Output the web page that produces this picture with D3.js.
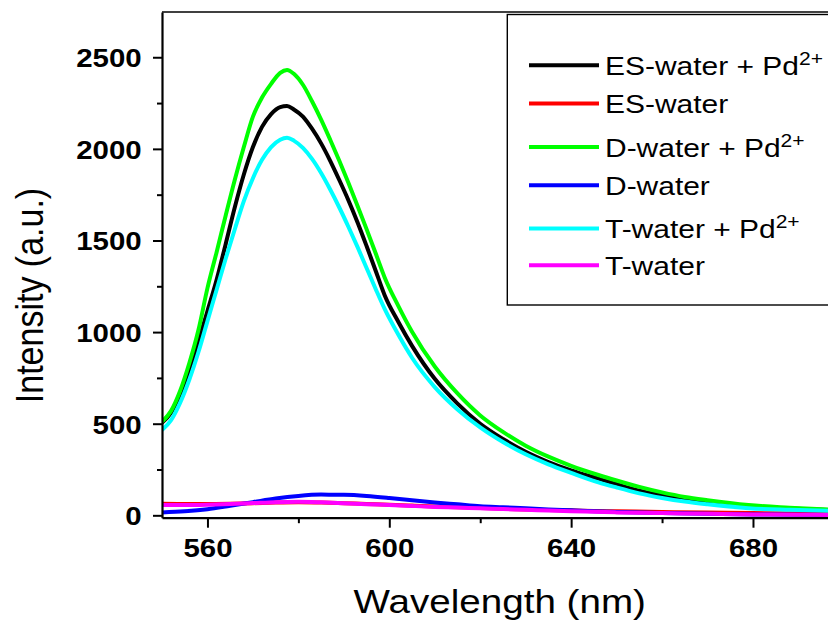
<!DOCTYPE html>
<html>
<head>
<meta charset="utf-8">
<script src="https://cdn.jsdelivr.net/npm/d3@7"></script>
<style>
  html, body { margin: 0; padding: 0; background: #fff; }
  svg { display: block; }
</style>
</head>
<body>
<svg id="chart" width="828" height="626"></svg>
<script>
// ---- data ----
const bigWavelengths = [550,552,554,556,558,560,562,564,566,568,570,572,574,576,577.5,579,581,583,585,587,589,591,593,595,597,599,602,605,610,615,620,625,630,635,640,646,650,655,660,665,670,679,688,697];
const esWaterPd = [505,560,660,795,950,1115,1284,1480,1680,1860,2010,2120,2190,2228,2234,2215,2176,2110,2030,1935,1830,1720,1600,1470,1335,1200,1055,925,745,610,500,417,347,291,245,200,170,135,110,88,72,50,37,28];
const dWaterPd = [511,570,680,830,1010,1240,1435,1635,1830,2010,2176,2280,2355,2415,2431,2410,2350,2260,2160,2050,1935,1815,1690,1562,1430,1297,1142,1002,812,665,545,455,380,320,270,220,190,155,125,100,82,56,42,31];
const tWaterPd = [466,520,615,740,890,1060,1230,1400,1560,1715,1840,1940,2010,2050,2061,2045,2005,1945,1868,1778,1680,1575,1465,1350,1235,1125,985,860,700,578,480,400,333,278,232,180,152,120,95,75,60,39,30,24];

const smallWavelengths = [550,555,560,565,570,575,580,585,590,595,600,605,610,615,620,625,630,635,640,645,650,660,670,680,690,697];
const esWater = [63,62,62,63,66,70,72,70,66,62,58,53,48,44,40,36,32,29,27,24,22,18,15,12,10,9];
const dWater  = [16,22,33,52,72,92,106,113,112,106,95,82,70,60,50,44,38,32,27,22,18,12,8,5,3,2];
const tWater  = [56,56,58,62,67,72,74,71,66,61,56,51,46,42,38,34,30,26,22,19,16,12,8,5,3,2];

const seriesNames = ["ES-water + Pd", "ES-water", "D-water + Pd", "D-water", "T-water + Pd", "T-water"];
const seriesSup   = ["2+", "", "2+", "", "2+", ""];
const seriesColors = ["#000000", "#ff0000", "#00ff00", "#0000ff", "#00ffff", "#ff00ff"];

const xTicks = [560, 600, 640, 680];
const xMinorTicks = [580, 620, 660, 700];
const yTicks = [0, 500, 1000, 1500, 2000, 2500];
const yMinorTicks = [250, 750, 1250, 1750, 2250];

const xTitle = "Wavelength (nm)";
const yTitle = "Intensity (a.u.)";

// ---- layout ----
const svg = d3.select("#chart");
const plotLeft = 162, plotTop = 12, plotBottom = 517.7;
const x = d3.scaleLinear().domain([550, 700]).range([plotLeft, plotLeft + 150 * 4.546]);
const y = d3.scaleLinear().domain([-13, 2747]).range([plotBottom, plotTop]);
const SX = 1.15; // horizontal stretch of the original picture's lettering

const series = [
  {xs: bigWavelengths, ys: esWaterPd},
  {xs: smallWavelengths, ys: esWater},
  {xs: bigWavelengths, ys: dWaterPd},
  {xs: smallWavelengths, ys: dWater},
  {xs: bigWavelengths, ys: tWaterPd},
  {xs: smallWavelengths, ys: tWater}
];

svg.append("defs").append("clipPath").attr("id", "plotclip")
  .append("rect").attr("x", plotLeft).attr("y", plotTop).attr("width", 828 - plotLeft).attr("height", plotBottom - plotTop);

// curves
const line = d3.line().x(d => x(d[0])).y(d => y(d[1])).curve(d3.curveMonotoneX);
const plot = svg.append("g").attr("clip-path", "url(#plotclip)");
series.forEach((s, i) => {
  const pts = s.xs.map((w, k) => [w, s.ys[k]]);
  plot.append("path").datum(pts)
    .attr("d", line)
    .attr("fill", "none")
    .attr("stroke", seriesColors[i])
    .attr("stroke-width", 4)
    .attr("stroke-linejoin", "round");
});

// top frame line
svg.append("line").attr("x1", plotLeft).attr("x2", 828).attr("y1", plotTop).attr("y2", plotTop)
  .attr("stroke", "#000").attr("stroke-width", 1.5);

// x axis
const xAxisG = svg.append("g").attr("transform", `translate(0,${plotBottom})`)
  .call(d3.axisBottom(x).tickValues(xTicks).tickSize(10).tickSizeOuter(0).tickPadding(8).tickFormat(d3.format("d")));
xAxisG.select(".domain").attr("stroke-width", 2.2);
xAxisG.selectAll(".tick line").attr("stroke-width", 2);
xAxisG.selectAll(".tick text")
  .attr("font-family", "'Liberation Sans', Arial, sans-serif")
  .attr("font-weight", "bold").attr("font-size", 25.6)
  .attr("fill", "#000")
  .attr("y", 0).attr("dy", 0)
  .attr("transform", `translate(0,39.6) scale(${SX},1)`);
const xMinorG = svg.append("g").attr("transform", `translate(0,${plotBottom})`)
  .call(d3.axisBottom(x).tickValues(xMinorTicks).tickSize(5.5).tickSizeOuter(0).tickFormat(""));
xMinorG.select(".domain").remove();
xMinorG.selectAll(".tick line").attr("stroke-width", 2);

// y axis
const yAxisG = svg.append("g").attr("transform", `translate(${plotLeft},0)`)
  .call(d3.axisLeft(y).tickValues(yTicks).tickSize(9).tickSizeOuter(0).tickFormat(d3.format("d")));
yAxisG.select(".domain").attr("stroke-width", 2.2);
yAxisG.selectAll(".tick line").attr("stroke-width", 2);
yAxisG.selectAll(".tick text")
  .attr("font-family", "'Liberation Sans', Arial, sans-serif")
  .attr("font-weight", "bold").attr("font-size", 25.6)
  .attr("fill", "#000")
  .attr("x", 0).attr("dy", 0)
  .attr("transform", `translate(-20.3,9.3) scale(${SX},1)`);
const yMinorG = svg.append("g").attr("transform", `translate(${plotLeft},0)`)
  .call(d3.axisLeft(y).tickValues(yMinorTicks).tickSize(5).tickSizeOuter(0).tickFormat(""));
yMinorG.select(".domain").remove();
yMinorG.selectAll(".tick line").attr("stroke-width", 2);

// axis titles
svg.append("text")
  .attr("transform", `translate(499.7,612.7) scale(1.17,1)`)
  .attr("text-anchor", "middle")
  .attr("font-family", "'Liberation Sans', Arial, sans-serif")
  .attr("font-size", 33)
  .attr("fill", "#000")
  .text(xTitle);
svg.append("text")
  .attr("transform", `translate(43,295.5) scale(${SX},1) rotate(-90)`)
  .attr("text-anchor", "middle")
  .attr("font-family", "'Liberation Sans', Arial, sans-serif")
  .attr("font-size", 34)
  .attr("fill", "#000")
  .text(yTitle);

// legend
const legend = svg.append("g");
legend.append("rect").attr("x", 507.3).attr("y", 14.5).attr("width", 400).attr("height", 290.5)
  .attr("fill", "none").attr("stroke", "#000").attr("stroke-width", 1.4);
const legendBaselines = [75, 113.3, 156.7, 195, 238.3, 275];
seriesNames.forEach((name, i) => {
  const by = legendBaselines[i];
  legend.append("line")
    .attr("x1", 529).attr("x2", 599)
    .attr("y1", by - 9.7).attr("y2", by - 9.7)
    .attr("stroke", seriesColors[i]).attr("stroke-width", 4);
  const t = legend.append("text")
    .attr("transform", `translate(605,${by}) scale(1.17,1)`)
    .attr("font-family", "'Liberation Sans', Arial, sans-serif")
    .attr("font-size", 25.6)
    .attr("fill", "#000");
  t.append("tspan").text(name);
  if (seriesSup[i]) {
    t.append("tspan").attr("font-size", 18).attr("dy", -10).text(seriesSup[i]);
  }
});
</script>
</body>
</html>
